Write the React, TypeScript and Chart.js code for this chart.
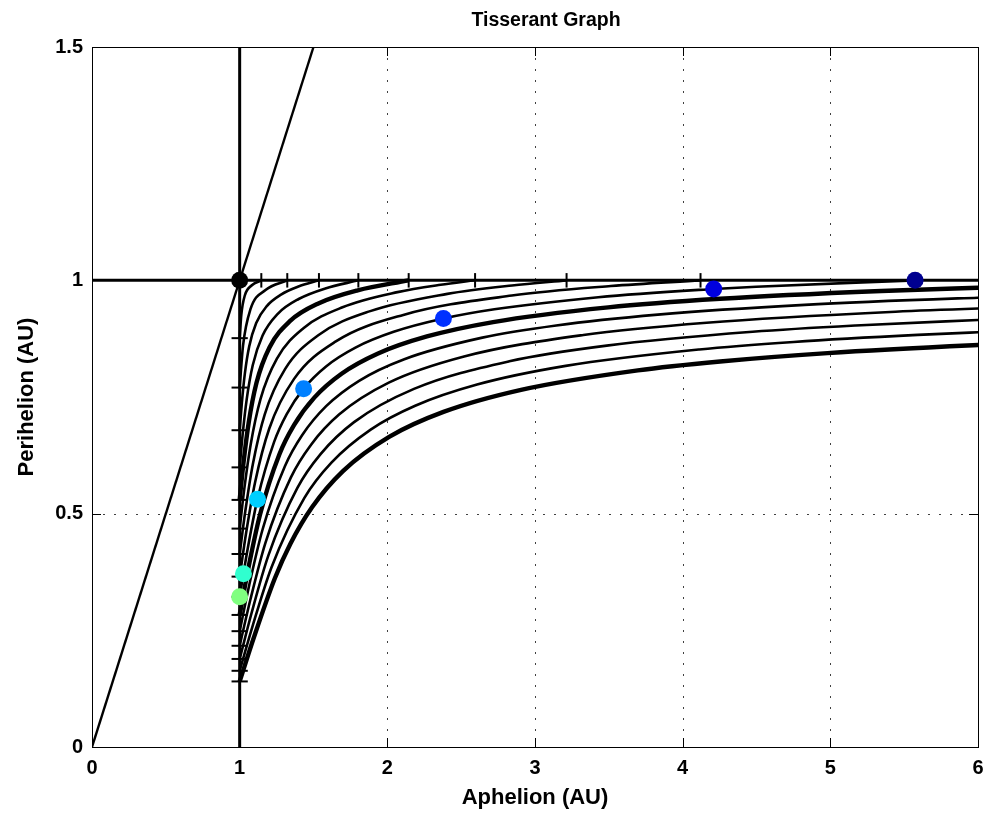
import { useEffect, useRef } from "react";
import { Chart, registerables } from "chart.js";

Chart.register(...registerables);

type Pt = [number, number];

// Axis ticks
const xTickValues = [0, 1, 2, 3, 4, 5, 6];
const xTickLabels = ["0", "1", "2", "3", "4", "5", "6"];
const yTickValues = [0, 0.5, 1, 1.5];
const yTickLabels = ["0", "0.5", "1", "1.5"];

// Hyperbolic excess speed of each contour (km/s)
const vinfKms = [1, 2, 3, 4, 5, 6, 7, 8, 9, 10, 11, 12, 13, 14, 15];
const heavyContours = [5, 10, 15];

// Constant v-infinity contours: [aphelion AU, perihelion AU]
const vinf01: Pt[] = [[1, 0.8761], [1.0111, 0.9261], [1.0348, 0.9675], [1.0825, 0.9894], [1.1466, 1.0]];
const vinf02: Pt[] = [[1, 0.7702], [1.0226, 0.8595], [1.072, 0.9371], [1.1752, 0.9792], [1.3224, 1.0]];
const vinf03: Pt[] = [[1, 0.6788], [1.0149, 0.7381], [1.0347, 0.7991], [1.0645, 0.8582], [1.112, 0.9085], [1.1839, 0.9449], [1.28, 0.9694], [1.3978, 0.9867], [1.5369, 1.0]];
const vinf04: Pt[] = [[1, 0.5992], [1.0202, 0.6698], [1.0474, 0.7443], [1.0885, 0.8179], [1.1552, 0.8816], [1.258, 0.9283], [1.3995, 0.96], [1.58, 0.9826], [1.8038, 1.0]];
const vinf05: Pt[] = [[1, 0.5295], [1.0258, 0.6087], [1.0607, 0.6942], [1.114, 0.7804], [1.2018, 0.8562], [1.3401, 0.9125], [1.5368, 0.951], [1.7994, 0.9786], [2.1446, 1.0]];
const vinf06: Pt[] = [[1, 0.468], [1.0315, 0.5537], [1.0746, 0.6483], [1.141, 0.7455], [1.2523, 0.8323], [1.4318, 0.8974], [1.6965, 0.9423], [2.0686, 0.9747], [2.361, 0.9905], [2.5942, 1.0]];
const vinf07: Pt[] = [[1, 0.4136], [1.0376, 0.5041], [1.0892, 0.606], [1.1699, 0.7129], [1.3073, 0.8097], [1.5348, 0.8829], [1.8842, 0.934], [2.4065, 0.971], [2.8449, 0.9891], [3.2138, 1.0]];
const vinf08: Pt[] = [[1, 0.3651], [1.0439, 0.459], [1.1045, 0.5671], [1.2006, 0.6824], [1.3673, 0.7883], [1.6513, 0.8691], [2.1081, 0.9259], [2.8431, 0.9674], [3.5139, 0.9877], [4.1209, 1.0]];
const vinf09: Pt[] = [[1, 0.3218], [1.0504, 0.418], [1.1206, 0.5311], [1.2334, 0.6538], [1.3187, 0.7134], [1.4331, 0.7679], [1.5851, 0.8156], [1.7842, 0.8559], [2.0429, 0.8896], [2.3798, 0.9181], [2.725, 0.9379], [3.4284, 0.9639], [4.2102, 0.9815], [4.4979, 0.9864], [5.5739, 1.0]];
const vinf10: Pt[] = [[1, 0.283], [1.0573, 0.3806], [1.1376, 0.4976], [1.2686, 0.6269], [1.369, 0.6903], [1.5056, 0.7486], [1.69, 0.7998], [1.9371, 0.8432], [2.268, 0.8797], [2.7162, 0.9106], [3.4954, 0.9421], [4.254, 0.9605], [5.3441, 0.9772], [6.0868, 0.9851]];
const vinf11: Pt[] = [[1, 0.2482], [1.0644, 0.3464], [1.1556, 0.4666], [1.3063, 0.6016], [1.4238, 0.6685], [1.5857, 0.7303], [1.8087, 0.7847], [2.115, 0.831], [2.6435, 0.8772], [3.1437, 0.9034], [3.8317, 0.9266], [4.8256, 0.9475], [5.9977, 0.9628], [6.3713, 0.9665]];
const vinf12: Pt[] = [[1, 0.2169], [1.0719, 0.315], [1.1745, 0.4376], [1.347, 0.5778], [1.4836, 0.6478], [1.6749, 0.7128], [2.0097, 0.7807], [2.5197, 0.8368], [3.3279, 0.8829], [4.1621, 0.9092], [5.4411, 0.9327], [6.3693, 0.9436]];
const vinf13: Pt[] = [[1, 0.1887], [1.0798, 0.2861], [1.1946, 0.4106], [1.3909, 0.5552], [1.5492, 0.6281], [1.7747, 0.6961], [2.1804, 0.7674], [2.8263, 0.8266], [3.4858, 0.8601], [4.4737, 0.8897], [5.1712, 0.9032], [6.0869, 0.9161]];
const vinf14: Pt[] = [[1, 0.1633], [1.088, 0.2596], [1.2159, 0.3853], [1.4384, 0.5339], [1.6214, 0.6095], [1.8872, 0.6802], [2.1886, 0.7313], [2.6077, 0.7767], [3.208, 0.8167], [4.1121, 0.8519], [4.7517, 0.868], [5.5919, 0.8831], [6.118, 0.8904]];
const vinf15: Pt[] = [[1, 0.1405], [1.0966, 0.2351], [1.2384, 0.3616], [1.3437, 0.4356], [1.49, 0.5137], [1.7013, 0.5917], [2.0149, 0.665], [2.3801, 0.7181], [2.9056, 0.7654], [3.6965, 0.8072], [4.2537, 0.8262], [4.9811, 0.8441], [5.9658, 0.8609], [6.4635, 0.8674]];

// Where each contour meets the planet's orbit
const apoTicks = [1.1466, 1.3224, 1.5369, 1.8038, 2.1446, 2.5942, 3.2138, 4.1209, 5.5739];
const periTicks = [0.8761, 0.7702, 0.6788, 0.5992, 0.5295, 0.468, 0.4136, 0.3651, 0.3218, 0.283, 0.2482, 0.2169, 0.1887, 0.1633, 0.1405];

// Planet orbit radius (AU)
const planetOrbit = 1;

// Orbits reachable after the 9 km/s flyby
const flybyAphelion = [1.0, 1.0254, 1.1206, 1.4331, 2.3798, 4.2102, 5.5739];
const flybyPerihelion = [0.3218, 0.3712, 0.5311, 0.7679, 0.9181, 0.9815, 1.0];
const flybyColors = ["#80ff80", "#30ffcf", "#00cfff", "#0080ff", "#0030ff", "#0000df", "#000090"];

const FONT = '"Liberation Sans", Arial, Helvetica, sans-serif';

const axesDecor = {
  id: "axesDecor",
  beforeDatasetsDraw(chart: any) {
    const { ctx, chartArea, scales } = chart;
    const { left, right, top, bottom } = chartArea;
    ctx.save();
    ctx.strokeStyle = "#404040";
    ctx.lineWidth = 1;
    ctx.setLineDash([2, 9]);
    for (const v of xTickValues) {
      if (v <= xTickValues[0] || v >= xTickValues[xTickValues.length - 1]) continue;
      const px = Math.round(scales.x.getPixelForValue(v)) + 0.5;
      ctx.beginPath();
      ctx.moveTo(px, top);
      ctx.lineTo(px, bottom);
      ctx.stroke();
    }
    for (const v of yTickValues) {
      if (v <= yTickValues[0] || v >= yTickValues[yTickValues.length - 1]) continue;
      const py = Math.round(scales.y.getPixelForValue(v)) + 0.5;
      ctx.beginPath();
      ctx.moveTo(left, py);
      ctx.lineTo(right, py);
      ctx.stroke();
    }
    ctx.restore();
  },
  afterDatasetsDraw(chart: any) {
    const { ctx, chartArea, scales } = chart;
    const { left, right, top, bottom } = chartArea;
    const len = 9;
    ctx.save();
    ctx.strokeStyle = "#000";
    ctx.lineWidth = 1;
    ctx.setLineDash([]);
    ctx.strokeRect(Math.round(left) + 0.5, Math.round(top) + 0.5, Math.round(right - left), Math.round(bottom - top));
    ctx.beginPath();
    for (const v of xTickValues) {
      const px = Math.round(scales.x.getPixelForValue(v)) + 0.5;
      ctx.moveTo(px, bottom);
      ctx.lineTo(px, bottom - len);
      ctx.moveTo(px, top);
      ctx.lineTo(px, top + len);
    }
    for (const v of yTickValues) {
      const py = Math.round(scales.y.getPixelForValue(v)) + 0.5;
      ctx.moveTo(left, py);
      ctx.lineTo(left + len, py);
      ctx.moveTo(right, py);
      ctx.lineTo(right - len, py);
    }
    ctx.stroke();
    ctx.restore();
  },
  afterDraw(chart: any) {
    const { ctx, chartArea } = chart;
    const { left, right, top, bottom } = chartArea;
    const cx = (left + right) / 2;
    ctx.save();
    ctx.fillStyle = "#000";
    ctx.textAlign = "center";
    ctx.textBaseline = "middle";
    ctx.font = `bold 19.5px ${FONT}`;
    ctx.fillText("Tisserant Graph", cx + 11, 21);
    ctx.font = `bold 22px ${FONT}`;
    ctx.fillText("Aphelion (AU)", cx, 798);
    ctx.translate(27, (top + bottom) / 2);
    ctx.rotate(-Math.PI / 2);
    ctx.fillText("Perihelion (AU)", 0, 0);
    ctx.restore();
  },
};

function toXY(points: Pt[]) {
  return points.map(([x, y]) => ({ x, y }));
}

export default function App() {
  const canvasRef = useRef<HTMLCanvasElement>(null);

  useEffect(() => {
    const canvas = canvasRef.current;
    if (!canvas) return;
    const contours = [vinf01, vinf02, vinf03, vinf04, vinf05, vinf06, vinf07, vinf08, vinf09, vinf10, vinf11, vinf12, vinf13, vinf14, vinf15];

    const datasets: any[] = [];

    datasets.push({
      label: "flyby orbits",
      data: flybyAphelion.map((x, i) => ({ x, y: flybyPerihelion[i] })),
      showLine: false,
      pointRadius: 8.5,
      pointHoverRadius: 8.5,
      pointBackgroundColor: flybyColors,
      pointBorderWidth: 0,
      order: 0,
    });
    datasets.push({
      label: "planet",
      data: [{ x: planetOrbit, y: planetOrbit }],
      showLine: false,
      pointRadius: 8.5,
      pointHoverRadius: 8.5,
      pointBackgroundColor: "#000",
      pointBorderWidth: 0,
      order: 0,
    });

    contours.forEach((c, i) => {
      datasets.push({
        label: `${vinfKms[i]} km/s`,
        data: toXY(c),
        showLine: true,
        borderColor: "#000",
        borderWidth: heavyContours.includes(vinfKms[i]) ? 4.4 : 2.6,
        pointRadius: 0,
        cubicInterpolationMode: "monotone",
        capBezierPoints: false,
        order: 2,
      });
    });

    const straight = (pts: Pt[], width: number) => ({
      data: toXY(pts),
      showLine: true,
      borderColor: "#000",
      borderWidth: width,
      pointRadius: 0,
      tension: 0,
      order: 1,
    });

    // rp = ra boundary, planet orbit lines
    datasets.push(straight([[0, 0], [1.5, 1.5]], 2.4));
    datasets.push(straight([[planetOrbit, 0], [planetOrbit, 1.5]], 3));
    datasets.push(straight([[0, planetOrbit], [6, planetOrbit]], 3));

    for (const t of apoTicks) datasets.push(straight([[t, planetOrbit - 0.0155], [t, planetOrbit + 0.0155]], 2));
    for (const t of periTicks) datasets.push(straight([[planetOrbit - 0.055, t], [planetOrbit + 0.055, t]], 2));

    const tickFont = { family: FONT, size: 20, weight: "bold" as const };

    const chart = new Chart(canvas, {
      type: "scatter",
      data: { datasets },
      options: {
        responsive: false,
        animation: false,
        devicePixelRatio: 1,
        events: [],
        layout: { padding: { top: 47, right: 19, left: 0, bottom: 0 } },
        plugins: {
          legend: { display: false },
          tooltip: { enabled: false },
          title: { display: false },
        },
        scales: {
          x: {
            type: "linear",
            min: 0,
            max: 6,
            afterFit: (s: any) => {
              s.height = 66;
            },
            afterBuildTicks: (s: any) => {
              s.ticks = xTickValues.map((value) => ({ value }));
            },
            grid: { display: false, drawTicks: false },
            border: { display: false },
            ticks: {
              color: "#000",
              font: tickFont,
              padding: 9,
              maxRotation: 0,
              autoSkip: false,
              callback: (v: any) => xTickLabels[xTickValues.indexOf(Number(v))] ?? "",
            },
          },
          y: {
            type: "linear",
            min: 0,
            max: 1.5,
            afterFit: (s: any) => {
              s.width = 92;
            },
            afterBuildTicks: (s: any) => {
              s.ticks = yTickValues.map((value) => ({ value }));
            },
            grid: { display: false, drawTicks: false },
            border: { display: false },
            ticks: {
              color: "#000",
              font: tickFont,
              padding: 9,
              autoSkip: false,
              callback: (v: any) => yTickLabels[yTickValues.indexOf(Number(v))] ?? "",
            },
          },
        },
      },
      plugins: [axesDecor],
    });

    return () => chart.destroy();
  }, []);

  return (
    <div style={{ position: "fixed", left: 0, top: 0, width: 997, height: 813, background: "#fff" }}>
      <canvas ref={canvasRef} width={997} height={813} style={{ display: "block" }} />
    </div>
  );
}
